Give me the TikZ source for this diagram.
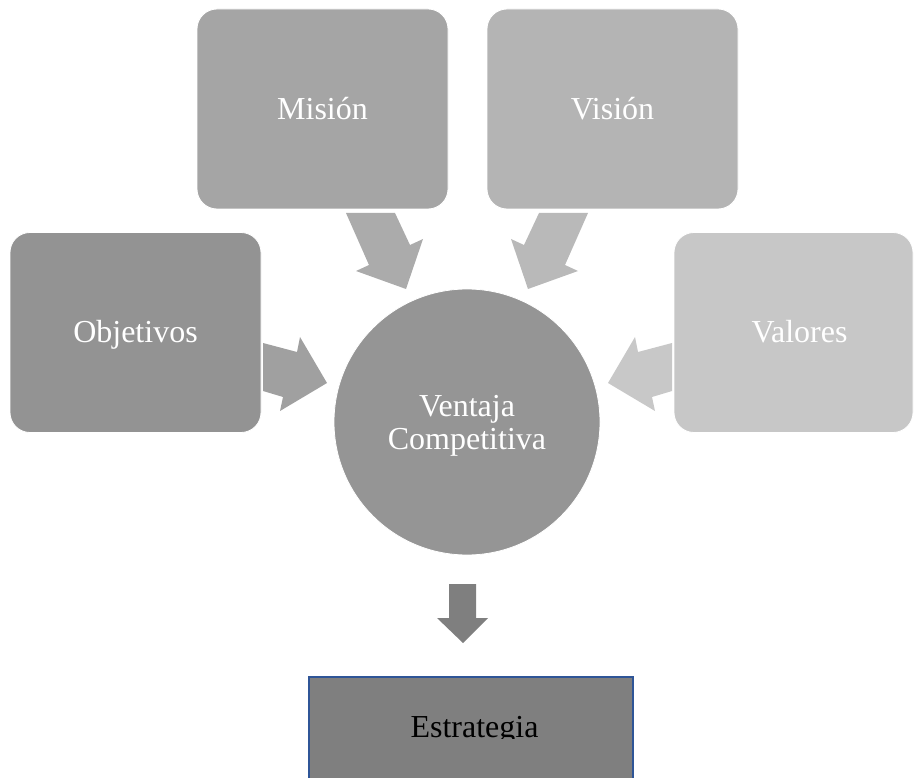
\documentclass[tikz,border=0pt]{standalone}
\usepackage{fontspec}
\setmainfont{Liberation Serif}
\definecolor{gObj}{HTML}{939393}
\definecolor{gMis}{HTML}{A5A5A5}
\definecolor{gVis}{HTML}{B4B4B4}
\definecolor{gVal}{HTML}{C7C7C7}
\definecolor{gCirc}{HTML}{959595}
\definecolor{gObjA}{HTML}{A0A0A0}
\definecolor{gMisA}{HTML}{ABABAB}
\definecolor{gVisA}{HTML}{B9B9B9}
\definecolor{gValA}{HTML}{C8C8C8}
\definecolor{gDark}{HTML}{7F7F7F}
\definecolor{edgeBlue}{HTML}{2F5597}
\tikzset{
  bigtext/.style={font=\fontsize{32}{33}\selectfont},
  card/.style={rectangle, rounded corners=20pt, draw=white, line width=0.8pt,
    minimum height=200pt, inner sep=0pt},
  cardlabel/.style={bigtext, text=white, inner sep=0pt, text height=21pt, text depth=0pt},
  hub/.style={circle, draw=white, line width=0.8pt, minimum size=266pt, inner sep=0pt,
    fill=gCirc}
}
\begin{document}
\begin{tikzpicture}[x=1pt,y=-1pt]
\useasboundingbox (0,0) rectangle (914,778);
\begin{scope}
\clip (0,0) rectangle (914,778);

% surrounding cards
\node[card, fill=gMis, minimum width=251pt] (mision) at (322.5,109) {};
\node[card, fill=gVis, minimum width=251pt] (vision) at (612.5,109) {};
\node[card, fill=gObj, minimum width=251pt] (objetivos) at (135.5,332.5) {};
\node[card, fill=gVal, minimum width=239pt] (valores) at (793.5,332.5) {};
\node[cardlabel] at (mision) {Misión};
\node[cardlabel] at (vision) {Visión};
\node[cardlabel] at (objetivos) {Objetivos};
\node[cardlabel] at ([xshift=6pt]valores.center) {Valores};

% central circle
\node[hub] (ventaja) at (467,422) {};
\node[bigtext, text=white, align=center, inner sep=0pt] at ([yshift=-4pt]ventaja.center)
  {Ventaja\\Competitiva};

% block arrows pointing at the circle
\fill[gMisA] (346,213) -- (395,213) -- (410,245) -- (423,239) -- (406,289)
  -- (356,271) -- (369,265) -- cycle;
\fill[gVisA] (588,213) -- (539,213) -- (524,245) -- (511,239) -- (528,289)
  -- (578,271) -- (565,265) -- cycle;
\fill[gObjA] (263,343) -- (297,352) -- (300,337) -- (327,383) -- (280,411)
  -- (283,397) -- (263,391) -- cycle;
\fill[gValA] (672,343) -- (638,352) -- (635,337) -- (608,383) -- (655,411)
  -- (652,397) -- (672,391) -- cycle;

% downward arrow to the strategy box
\fill[gDark] (449,584) -- (476,584) -- (476,618) -- (488,618) -- (463,643)
  -- (437,618) -- (449,618) -- cycle;

% strategy box, running past the lower edge
\draw[edgeBlue, line width=2.5pt, fill=gDark] (309,677) rectangle (633,800);
\begin{scope}
\clip (310,680) rectangle (632,738.5);
\node[anchor=base, inner sep=0pt, text=black, bigtext]
  (estrategia) at (474.5,737) {Estrategia};
\end{scope}
\end{scope}
\end{tikzpicture}
\end{document}
